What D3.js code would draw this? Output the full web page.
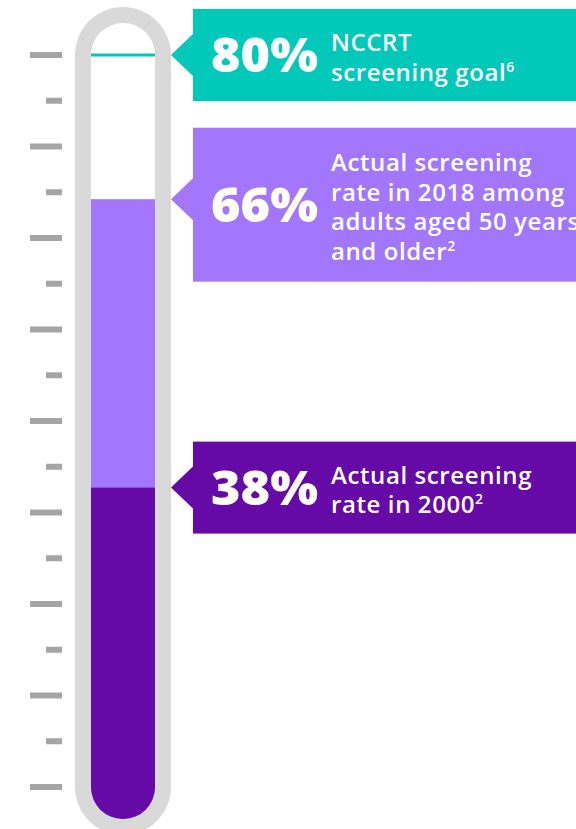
<!DOCTYPE html>
<html>
<head>
<meta charset="utf-8">
<script src="https://cdn.jsdelivr.net/npm/d3@7"></script>
<style>
  html, body { margin: 0; padding: 0; background: #fff; }
  svg { display: block; }
</style>
</head>
<body>
<div id="chart"></div>
<script>
// values
const levels = [80, 66, 38];
const bigLabels = ["80%", "66%", "38%"];
const captions = [
    ["NCCRT", "screening goal"],
    ["Actual screening", "rate in 2018 among", "adults aged 50 years", "and older"],
    ["Actual screening", "rate in 2000"]
];
const footnotes = ["6", "2", "2"];
const tickCount = 17;

const width = 576;
const height = 829;

const boxColors = ["#00c9ba", "#a277fd", "#650aa6"];
const tubeGray = "#d9d9d9";
const tickGray = "#a5a5a8";

// tube geometry
const tubeX = 75, tubeW = 96, wall = 16;
const tubeTop = 7;
const innerX = tubeX + wall, innerW = tubeW - 2 * wall;
const innerR = innerW / 2;
const arcTop = tubeTop + tubeW / 2;       // 55
const innerBottom = 819;
const arcBottom = innerBottom - innerR;   // 787

const svg = d3.create("svg")
    .attr("width", width)
    .attr("height", height)
    .attr("viewBox", [0, 0, width, height])
    .attr("style", "font-family: 'Open Sans', sans-serif;");

const y = d3.scaleLinear()
    .domain([0, 80])
    .range([879, arcTop]);

const tickY = d3.scaleLinear()
    .domain([0, tickCount - 1])
    .range([arcTop, arcBottom]);

// ticks on the left
svg.append("g")
    .selectAll("rect")
    .data(d3.range(tickCount))
    .join("rect")
    .attr("x", i => i % 2 === 0 ? 30 : 46)
    .attr("y", i => tickY(i) - 3)
    .attr("width", i => i % 2 === 0 ? 32 : 16)
    .attr("height", 6)
    .attr("fill", tickGray);

// tube
svg.append("rect")
    .attr("x", tubeX)
    .attr("y", tubeTop)
    .attr("width", tubeW)
    .attr("height", innerBottom + wall - tubeTop)
    .attr("rx", tubeW / 2)
    .attr("fill", tubeGray);

svg.append("rect")
    .attr("x", innerX)
    .attr("y", tubeTop + wall)
    .attr("width", innerW)
    .attr("height", innerBottom - tubeTop - wall)
    .attr("rx", innerR)
    .attr("fill", "#fff");

const defs = svg.append("defs");
defs.append("clipPath")
    .attr("id", "inner")
    .append("rect")
    .attr("x", innerX)
    .attr("y", tubeTop + wall)
    .attr("width", innerW)
    .attr("height", innerBottom - tubeTop - wall)
    .attr("rx", innerR);

const fill = svg.append("g").attr("clip-path", "url(#inner)");

// filled levels (66 and 38)
fill.selectAll("rect")
    .data(levels.slice(1))
    .join("rect")
    .attr("x", innerX)
    .attr("y", d => y(d))
    .attr("width", innerW)
    .attr("height", d => innerBottom - y(d))
    .attr("fill", (d, i) => boxColors[i + 1]);

// goal line
svg.append("rect")
    .attr("x", innerX)
    .attr("y", y(levels[0]) - 1.5)
    .attr("width", innerW)
    .attr("height", 3)
    .attr("fill", boxColors[0]);

// callout boxes
const boxX = 193, arrowTip = 171;
const lineH = 29.5;

const callouts = svg.append("g")
    .selectAll("g")
    .data(levels)
    .join("g");

callouts.each(function (v, i) {
    const g = d3.select(this);
    const n = captions[i].length;
    const level = y(v);
    const h = n * 31 + 30;
    const center = level + (n - 2) * 2.75;
    const top = center - h / 2;

    g.append("rect")
        .attr("x", boxX)
        .attr("y", top)
        .attr("width", width - boxX + 10)
        .attr("height", h)
        .attr("fill", boxColors[i]);

    g.append("path")
        .attr("d", `M${arrowTip},${level}L${boxX + 1},${level - 22}L${boxX + 1},${level + 22}Z`)
        .attr("fill", boxColors[i]);

    g.append("text")
        .attr("x", 211)
        .attr("y", center + 17)
        .attr("fill", "#fff")
        .attr("font-size", 48)
        .attr("font-weight", 800)
        .attr("textLength", 107)
        .attr("lengthAdjust", "spacingAndGlyphs")
        .text(bigLabels[i]);

    const t = g.append("text")
        .attr("fill", "#fff")
        .attr("font-size", 24)
        .attr("font-weight", 600)
        .attr("letter-spacing", 0.6);

    captions[i].forEach((line, j) => {
        t.append("tspan")
            .attr("x", 331)
            .attr("y", center + (j - (n - 1) / 2) * lineH + 11)
            .text(line);
        if (j === n - 1) {
            t.append("tspan")
                .attr("font-size", 14)
                .attr("dy", -9)
                .text(footnotes[i]);
        }
    });
});

document.getElementById("chart").appendChild(svg.node());
</script>
</body>
</html>
